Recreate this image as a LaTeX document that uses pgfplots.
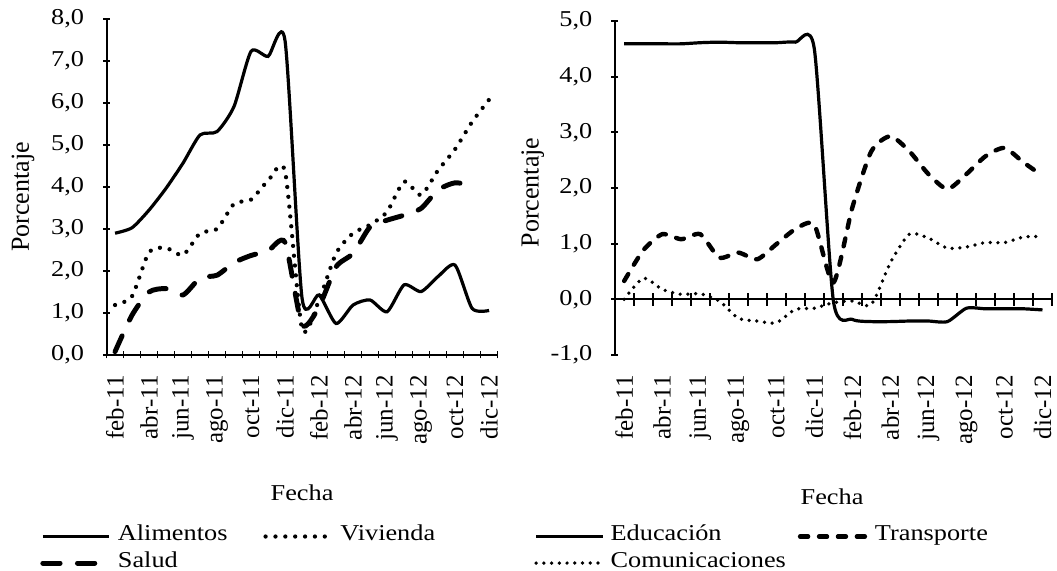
\documentclass[border=0pt]{standalone}
\usepackage{fontspec}
\setmainfont{Liberation Serif}[FakeStretch=1.16]
\newfontfamily\rotfont{Liberation Serif}
\usepackage{pgfplots}
\pgfplotsset{compat=1.18}

\pgfplotstableread{
x y
0 2.90
1 3.03
2 3.45
3 3.97
4 4.57
5 5.24
6 5.32
7 5.92
8 7.23
9 7.11
10 7.48
11 1.35
12 1.43
13 0.75
14 1.19
15 1.31
16 1.03
17 1.67
18 1.51
19 1.87
20 2.14
21 1.11
22 1.06
}\alimentos
\pgfplotstableread{
x y
0 1.19
1 1.40
2 2.45
3 2.55
4 2.38
5 2.90
6 3.00
7 3.60
8 3.70
9 4.15
10 4.37
11 0.62
12 1.31
13 2.42
14 2.90
15 3.10
16 3.41
17 4.13
18 3.81
19 4.40
20 4.90
21 5.55
22 6.08
}\vivienda
\pgfplotstableread{
x y
0 0.08
1 0.95
2 1.50
3 1.58
4 1.43
5 1.83
6 1.90
7 2.20
8 2.37
9 2.48
10 2.68
11 0.72
12 1.15
13 2.10
14 2.42
15 3.05
16 3.21
17 3.33
18 3.49
19 3.93
20 4.10
21 4.03
}\salud
\pgfplotstableread{
x y
0 4.59
1 4.59
2 4.59
3 4.59
4 4.61
5 4.62
6 4.61
7 4.61
8 4.61
9 4.62
10 4.50
11 -0.02
12 -0.36
13 -0.40
14 -0.40
15 -0.39
16 -0.39
17 -0.40
18 -0.16
19 -0.17
20 -0.17
21 -0.17
22 -0.19
}\educacion
\pgfplotstableread{
x y
0 0.33
1 0.88
2 1.17
3 1.08
4 1.17
5 0.75
6 0.84
7 0.72
8 0.99
9 1.26
10 1.34
11 0.30
12 1.65
13 2.66
14 2.93
15 2.66
16 2.25
17 1.98
18 2.25
19 2.57
20 2.72
21 2.46
22 2.22
}\transporte
\pgfplotstableread{
x y
0 0.00
1 0.38
2 0.18
3 0.09
4 0.10
5 -0.03
6 -0.34
7 -0.39
8 -0.42
9 -0.18
10 -0.16
11 -0.06
12 -0.03
13 -0.09
14 0.66
15 1.17
16 1.10
17 0.92
18 0.94
19 1.02
20 1.02
21 1.12
22 1.13
}\comunicaciones

\pgfplotsset{
  noarrows/.style={
    x axis line style={-}, y axis line style={-},
    every inner x axis line/.append style={-}, every inner y axis line/.append style={-},
    every outer x axis line/.append style={-}, every outer y axis line/.append style={-}},
  mystyle/.style={
    scale only axis,
    clip=false,
    xmin=-0.5, xmax=22.5,
    axis line style={-, line width=1.5pt},
    tick style={line width=1.3pt, black},
    tick align=inside,
    major tick length=5.25pt,
    minor tick length=5.25pt,
    xtick={0,2,...,22},
    xticklabels={feb-11,abr-11,jun-11,ago-11,oct-11,dic-11,feb-12,abr-12,jun-12,ago-12,oct-12,dic-12},
    minor xtick={-0.5,0.5,...,22.5},
    major x tick style={draw=none},
    tick label style={font=\fontsize{17}{20.4}\selectfont},
    xticklabel style={rotate=90, anchor=east, inner sep=0pt, font=\rotfont\fontsize{18.7}{22}\selectfont},
    xticklabel shift=12.5pt,
    yticklabel style={anchor=east, inner sep=0pt,
      /pgf/number format/.cd, fixed, fixed zerofill, precision=1, use comma, assume math mode=true},
    yticklabel shift=14pt,
    ylabel style={font=\rotfont\fontsize{19.5}{23}\selectfont, anchor=center},
    xlabel style={font=\fontsize{17}{20.4}\selectfont, anchor=center},
    legend columns=2,
    legend cell align=left,
    legend style={draw=none, fill=none, inner sep=0pt, anchor=north west,
      font=\fontsize{17}{20.4}\selectfont,
      nodes={inner sep=0pt, text height=13pt, text depth=6.9pt},
      /tikz/every odd column/.append style={column sep=4.5pt}},
    legend image code/.code={\draw[##1] (0pt,0pt) -- (50pt,0pt);},
  },
  alim/.style={black, line width=2.4pt, smooth, tension=0.4},
  viv/.style={black, line width=3.2pt, smooth, tension=0.4, line cap=round, dash pattern=on 0pt off 7.4pt},
  sal/.style={black, line width=3.7pt, smooth, tension=0.4, line cap=round, dash pattern=on 13pt off 13pt},
  edu/.style={black, line width=2.4pt, smooth, tension=0.4},
  tra/.style={black, line width=3.3pt, smooth, tension=0.4, line cap=round, dash pattern=on 6pt off 8.2pt},
  com/.style={black, line width=2.8pt, smooth, tension=0.4, line cap=round, dash pattern=on 0pt off 5.8pt},
}

\begin{document}
\begin{tikzpicture}[font=\fontsize{17}{20.4}\selectfont]
\useasboundingbox (0,0) rectangle (792.75pt,428.25pt);

\begin{axis}[mystyle,
  at={(79.9pt,162pt)}, anchor=south west,
  width=293.3pt, height=252pt,
  ymin=0, ymax=8, ytick={0,1,...,8},
  axis lines=left, noarrows,
  ylabel={Porcentaje},
  ylabel style={at={(axis description cs:-0.2135,0.47)}},
  xlabel={Fecha},
  xlabel style={at={(axis description cs:0.5,-0.411)}},
  legend style={at={(axis description cs:-0.170,-0.50)},
    /tikz/every even column/.append style={column sep=27pt}},
]
\addplot[alim] table {\alimentos};
\addlegendentry{Alimentos}
\addplot[viv] table {\vivienda};
\addlegendentry{Vivienda}
\addplot[sal] table {\salud};
\addlegendentry{Salud}
\end{axis}

% right chart: data, y axis, labels
\begin{axis}[mystyle,
  at={(461pt,162pt)}, anchor=south west,
  width=328pt, height=250.5pt,
  ymin=-1, ymax=5, ytick={-1,0,...,5},
  axis y line=left, axis x line=bottom, noarrows,
  every outer x axis line/.append style={draw=none},
  minor x tick style={draw=none},
  ylabel={Porcentaje},
  ylabel style={at={(axis description cs:-0.187,0.487)}},
  xlabel={Fecha},
  xlabel style={at={(axis description cs:0.497,-0.425)}},
  legend style={at={(axis description cs:-0.1845,-0.503)},
    /tikz/every even column/.append style={column sep=9pt}},
]
\addplot[edu] table {\educacion};
\addlegendentry{Educación}
\addplot[tra] table {\transporte};
\addlegendentry{Transporte}
\addplot[com] table {\comunicaciones};
\addlegendentry{Comunicaciones}
\end{axis}

% right chart: zero line with crossing ticks
\begin{axis}[
  at={(461pt,162pt)}, anchor=south west,
  width=328pt, height=250.5pt, scale only axis,
  xmin=-0.5, xmax=22.5, ymin=-1, ymax=5,
  axis x line=middle, axis y line=none, noarrows,
  axis line style={-, line width=1.5pt},
  tick style={line width=1.3pt, black},
  xtick={-0.5,0.5,...,22.5}, xticklabels={}, ytick=\empty,
  tick align=center, major tick length=9.5pt,
]
\end{axis}
\end{tikzpicture}
\end{document}
